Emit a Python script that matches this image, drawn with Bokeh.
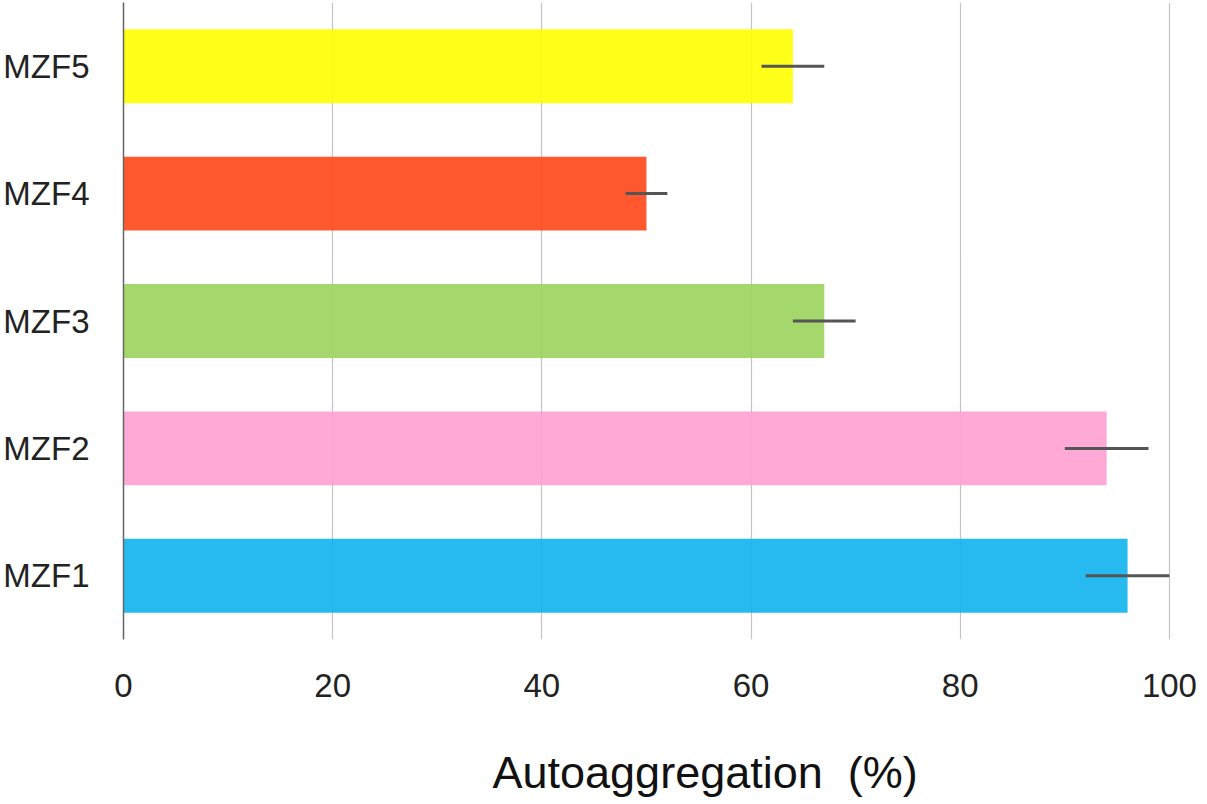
from bokeh.plotting import figure
from bokeh.models import FactorRange, Range1d, ColumnDataSource, Title
from bokeh.embed import file_html
from bokeh.resources import INLINE

categories = ["MZF1", "MZF2", "MZF3", "MZF4", "MZF5"]
values = [96, 94, 67, 50, 64]
errors = [4, 4, 3, 2, 3]
colors = ["#0EB3EE", "#FFA0D1", "#9AD35C", "#FF4617", "#FFFF00"]
x_ticks = [0, 20, 40, 60, 80, 100]
x_title = "Autoaggregation\u00a0\u00a0(%)"

src = ColumnDataSource(dict(
    cat=categories,
    val=values,
    lo=[v - e for v, e in zip(values, errors)],
    hi=[v + e for v, e in zip(values, errors)],
    color=colors,
))

p = figure(
    y_range=FactorRange(factors=categories, range_padding=0),
    x_range=Range1d(0, 100.2),
    frame_width=1048, frame_height=637,
    output_backend="svg", toolbar_location=None,
    min_border_top=2, min_border_bottom=0, min_border_right=27, min_border_left=0,
)
p.outline_line_color = None

p.hbar(y="cat", right="val", left=0, height=0.58, fill_color="color",
       fill_alpha=0.9, line_color=None, source=src)
p.segment(x0="lo", x1="hi", y0="cat", y1="cat", line_color="#555555",
          line_width=3, source=src)

font = "Liberation Sans"
p.xaxis.ticker = x_ticks
p.xaxis.axis_line_color = None
p.xaxis.major_tick_line_color = None
p.xaxis.minor_tick_line_color = None
p.xaxis.major_label_text_font = font
p.xaxis.major_label_text_font_size = "33px"
p.xaxis.major_label_text_color = "#222222"
p.xaxis.major_label_standoff = 28

title = Title(text=x_title, align="left", offset=369, standoff=90,
              text_font=font, text_font_size="45px", text_color="#111111",
              text_font_style="normal")
p.add_layout(title, "below")

p.yaxis.axis_line_color = "#666666"
p.yaxis.axis_line_width = 1.5
p.yaxis.major_tick_line_color = None
p.yaxis.minor_tick_line_color = None
p.yaxis.major_label_text_font = font
p.yaxis.major_label_text_font_size = "33px"
p.yaxis.major_label_text_color = "#222222"
p.yaxis.major_label_standoff = 28

p.ygrid.grid_line_color = None
p.xgrid.grid_line_color = "#c4c4c4"
p.xgrid.grid_line_width = 1.2

open("out.html", "w").write(file_html(p, INLINE))
